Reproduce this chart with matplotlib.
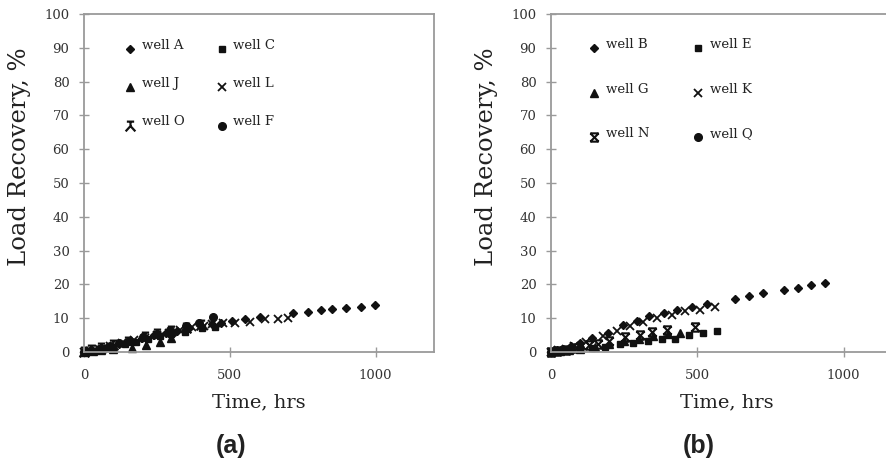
import matplotlib
matplotlib.use("Agg")
import matplotlib.pyplot as plt
from matplotlib.path import Path

# ---------------- data: panel (a) ----------------
A_x = [0, 25, 50, 80, 120, 160, 200, 240, 280, 320, 360, 400, 440, 470, 506, 551, 603, 717, 768, 814, 852, 900, 949, 997]
A_y = [0, 0.5, 1.0, 1.6, 2.5, 3.3, 4.1, 4.9, 5.6, 6.3, 7.0, 7.6, 8.2, 8.7, 9.3, 9.7, 10.3, 11.5, 11.8, 12.3, 12.7, 12.9, 13.3, 13.9]
C_x = [0, 15, 30, 50, 75, 100, 140, 180, 220, 260, 300, 346, 403, 449]
C_y = [0, 0.2, 0.4, 0.7, 1.1, 1.6, 2.4, 3.1, 3.9, 4.6, 5.4, 6.0, 7.0, 7.5]
J_x = [0, 30, 60, 100, 163, 212, 260, 300]
J_y = [0, 0.3, 0.5, 0.8, 1.1, 2.1, 3.1, 4.0]
L_x = [0, 20, 50, 90, 130, 170, 210, 250, 290, 330, 370, 410, 440, 476, 517, 568, 620, 664, 699]
L_y = [0, 0.3, 0.9, 1.7, 2.6, 3.5, 4.2, 5.0, 5.7, 6.5, 7.3, 7.8, 8.3, 8.7, 8.5, 9.0, 9.7, 9.7, 10.0]
O_x = [0, 25, 60, 100, 152, 209, 250, 300, 350, 400]
O_y = [0, 0.5, 1.2, 2.0, 3.1, 4.5, 5.2, 6.1, 7.0, 7.9]
F_x = [0, 20, 50, 90, 120, 155, 203, 251, 295, 349, 395, 441]
F_y = [0, 0.4, 1.0, 1.9, 2.6, 3.4, 4.5, 5.3, 6.5, 7.7, 8.7, 10.3]

# ---------------- data: panel (b) ----------------
B_x = [0, 20, 40, 70, 100, 140, 196, 247, 293, 336, 387, 432, 482, 533, 630, 676, 725, 796, 843, 890, 938]
B_y = [0, 0.5, 1.0, 1.8, 2.8, 4.0, 5.7, 8.0, 9.3, 10.7, 11.5, 12.3, 13.4, 14.1, 15.7, 16.7, 17.4, 18.4, 19.0, 19.7, 20.4]
E_x = [0, 15, 35, 60, 100, 139, 185, 236, 282, 331, 379, 425, 473, 519, 567]
E_y = [0, 0.1, 0.3, 0.5, 0.8, 1.1, 1.6, 2.3, 2.6, 3.3, 3.8, 3.8, 5.0, 5.7, 6.3]
G_x = [0, 30, 60, 100, 150, 200, 250, 300, 350, 400, 442]
G_y = [0, 0.3, 0.6, 1.0, 1.6, 2.4, 3.2, 3.9, 4.6, 5.2, 5.7]
K_x = [0, 25, 50, 80, 120, 178, 224, 270, 316, 362, 413, 459, 510, 562]
K_y = [0, 0.5, 1.0, 1.8, 2.9, 4.7, 6.3, 7.7, 9.0, 10.0, 11.0, 12.0, 12.5, 13.3]
N_x = [0, 20, 50, 90, 130, 160, 200, 253, 305, 347, 396, 491]
N_y = [0, 0.3, 0.7, 1.3, 2.0, 2.5, 3.3, 4.4, 5.0, 6.0, 6.5, 7.3]
Q_x = [0, 10, 25, 45, 70, 100]
Q_y = [0, 0.2, 0.4, 0.7, 1.0, 1.3]

# ---------------- custom markers ----------------
M, L = Path.MOVETO, Path.LINETO
O_marker = Path([(-0.45, 0.6), (0.45, 0.6), (0, 0.6), (0, 0.05), (-0.6, -0.6), (0, 0.05), (0.6, -0.6)],
                [M, L, M, L, L, M, L])
N_marker = Path([(-0.55, -0.55), (0.55, 0.55), (-0.55, 0.55), (0.55, -0.55),
                 (-0.55, 0.55), (0.55, 0.55), (-0.55, -0.55), (0.55, -0.55)],
                [M, L, M, L, M, L, M, L])

plt.rcParams['font.family'] = ['DejaVu Serif']

fig = plt.figure(figsize=(8.87, 4.66), dpi=100)
W, H = 887, 466
axA = fig.add_axes([84 / W, 1 - 352 / H, 350 / W, 338 / H])
axB = fig.add_axes([551 / W, 1 - 352 / H, 351 / W, 338 / H])

K = '#111111'
style = {
    'dia': dict(marker='D', ms=3.8, color=K, mec=K),
    'sq': dict(marker='s', ms=5.0, color=K, mec=K),
    'tri': dict(marker='^', ms=5.5, color=K, mec=K),
    'x': dict(marker='x', ms=6.0, color=K, mew=1.3),
    'circ': dict(marker='o', ms=5.5, color=K, mec=K),
    'O': dict(marker=O_marker, ms=7.0, color=K, mew=1.6, mfc='none'),
    'N': dict(marker=N_marker, ms=6.0, color=K, mew=1.5, mfc='none'),
}

series_a = [(A_x, A_y, 'dia', 'well A'), (C_x, C_y, 'sq', 'well C'),
            (J_x, J_y, 'tri', 'well J'), (L_x, L_y, 'x', 'well L'),
            (O_x, O_y, 'O', 'well O'), (F_x, F_y, 'circ', 'well F')]
series_b = [(B_x, B_y, 'dia', 'well B'), (E_x, E_y, 'sq', 'well E'),
            (G_x, G_y, 'tri', 'well G'), (K_x, K_y, 'x', 'well K'),
            (N_x, N_y, 'N', 'well N'), (Q_x, Q_y, 'circ', 'well Q')]

legend_pos_a = [(158, 199, 90.8), (473, 510, 90.8), (158, 199, 79.5), (473, 510, 79.5), (158, 199, 68.2), (473, 510, 68.2)]
legend_pos_b = [(147, 188, 91.1), (503, 545, 91.1), (147, 188, 77.7), (503, 545, 77.7), (147, 188, 64.7), (503, 545, 64.7)]

for ax, series, lpos, tag in [(axA, series_a, legend_pos_a, '(a)'), (axB, series_b, legend_pos_b, '(b)')]:
    for (xs, ys, st, name), (mx, tx, ly) in zip(series, lpos):
        ax.plot(xs, ys, linestyle='none', clip_on=False, **style[st])
        ax.plot([mx], [ly - 1.2], linestyle='none', **style[st])
        ax.text(tx, ly, name, fontsize=9.5, va='center', ha='left', color='#222222')
    ax.set_xlim(0, 1200)
    ax.set_ylim(0, 100)
    ax.set_xticks([0, 500, 1000])
    ax.set_yticks(range(0, 101, 10))
    for s in ax.spines.values():
        s.set_color('#9a9a9a')
        s.set_linewidth(1.3)
    ax.tick_params(direction='inout', length=7, width=1.0, color='#9a9a9a',
                   labelsize=9.5, labelcolor='#333333')
    ax.tick_params(axis='y', pad=7)
    ax.tick_params(axis='x', pad=9)
    ax.set_xlabel('Time, hrs', fontsize=14, color='#222222', labelpad=8)
    ax.set_ylabel('Load Recovery, %', fontsize=17.5, color='#222222')
    ax.yaxis.set_label_coords(-0.15, 0.577)
    ax.text(0.42, -0.277, tag, transform=ax.transAxes, ha='center', va='center',
            fontsize=18, fontweight='bold', family='Liberation Sans', color='#222222')

fig.savefig('out.png', dpi=100)
